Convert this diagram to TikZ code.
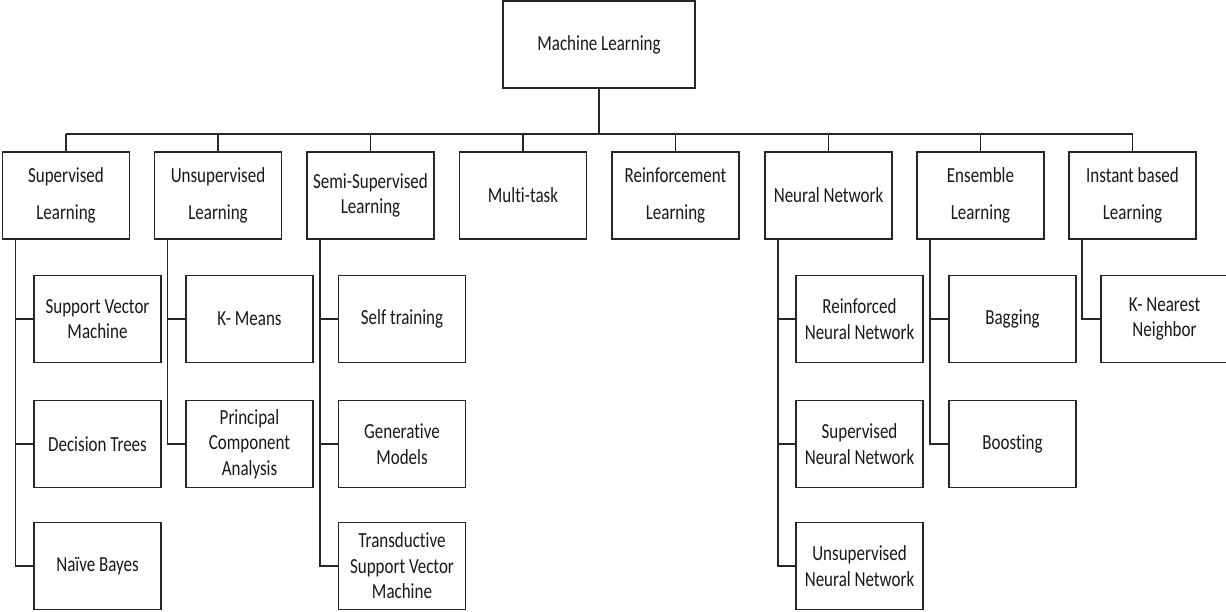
\documentclass[tikz,border=0pt]{standalone}
\usepackage{fontspec}
\setmainfont{Carlito}[FakeStretch=0.79, RawFeature={-liga;-clig;-calt}]
\begin{document}
\begin{tikzpicture}[x=1pt,y=-1pt,
  every node/.style={text=black!90},
  box/.style={draw=black!85, line width=1.3pt, fill=white, inner sep=0pt,
    minimum width=127pt, minimum height=87pt, align=center,
    font=\fontsize{21.5}{37}\selectfont},
  tight/.style={font=\fontsize{21.5}{25.5}\selectfont},
  link/.style={draw=black!85, line width=1.3pt}
]
\useasboundingbox (0,0) rectangle (1226,611);

% root
\node[box, minimum width=192pt, minimum height=87pt] (ml) at (599,44.5) {Machine Learning};
\coordinate (bus) at (599,134);

% first level
\node[box] (sup)   at (66,195.5)   {Supervised\\Learning};
\node[box] (uns)   at (218,195.5)  {Unsupervised\\Learning};
\node[box, tight] (semi) at (370.5,195.5) {Semi-Supervised\\Learning};
\node[box] (multi) at (523,195.5)  {Multi-task};
\node[box] (rein)  at (675.5,195.5) {Reinforcement\\Learning};
\node[box] (nn)    at (828.5,195.5) {Neural Network};
\node[box] (ens)   at (980.5,195.5) {Ensemble\\Learning};
\node[box] (inst)  at (1132.5,195.5) {Instant based\\Learning};

% second level
\node[box, tight] (svm)  at (97.5,319)  {Support Vector\\Machine};
\node[box, tight] (dt)   at (97.5,444)  {Decision Trees};
\node[box, tight] (nb)   at (97.5,566)  {Naïve Bayes};
\node[box, tight] (km)   at (249.5,319) {K- Means};
\node[box, tight] (pca)  at (249.5,444) {Principal\\Component\\Analysis};
\node[box, tight] (st)   at (402,319)   {Self training};
\node[box, tight] (gm)   at (402,444)   {Generat\kern0pt ive\\Models};
\node[box, tight] (tsvm) at (402,566)   {Transduct\kern0pt ive\\Support Vector\\Machine};
\node[box, tight] (rnn)  at (859.5,319) {Reinforced\\Neural Network};
\node[box, tight] (snn)  at (859.5,444) {Supervised\\Neural Network};
\node[box, tight] (unn)  at (859.5,566) {Unsupervised\\Neural Network};
\node[box, tight] (bag)  at (1012.5,319) {Bagging};
\node[box, tight] (boo)  at (1012.5,444) {Boosting};
\node[box, tight] (knn)  at (1164.5,319) {K- Nearest\\Neighbor};

% root to the bus, bus to each first-level box
\draw[link] (ml.south) -- (bus);
\draw[link] (sup.north |- bus) -- (inst.north |- bus);
\foreach \n in {sup,uns,semi,multi,rein,nn,ens,inst}
  \draw[link] (\n.north) -- (\n.north |- bus);

% spines down the left of each group
\foreach \p/\c in {sup/svm,sup/dt,sup/nb,uns/km,uns/pca,semi/st,semi/gm,semi/tsvm,
                   nn/rnn,nn/snn,nn/unn,ens/bag,ens/boo,inst/knn}
  \draw[link] ([xshift=13.5pt]\p.south west) |- (\c.west);
\end{tikzpicture}
\end{document}
